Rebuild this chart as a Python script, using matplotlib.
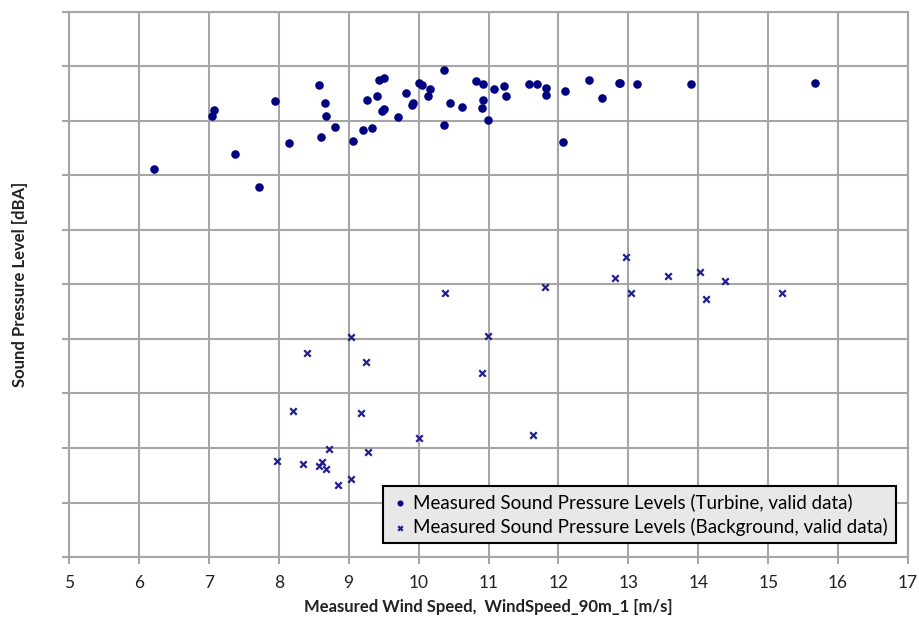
import matplotlib
matplotlib.use("Agg")
import matplotlib.pyplot as plt

plt.rcParams['font.family'] = ['Lato', 'DejaVu Sans']

# Turbine (valid data): wind speed [m/s], sound level (in grid units, no labelled scale)
turb_ws = [6.21, 7.05, 7.08, 7.38, 7.72, 7.95, 8.14, 8.57, 8.60, 8.66, 8.67, 8.81,
           9.06, 9.21, 9.34, 9.26, 9.41, 9.43, 9.50, 9.48, 9.51, 9.70, 9.82, 9.90,
           9.92, 10.01, 10.05, 10.17, 10.13, 10.37, 10.37, 10.45, 10.62, 10.82, 10.92,
           10.92, 10.90, 10.99, 11.08, 11.22, 11.25, 11.58, 11.70, 11.82, 11.82, 12.10,
           12.06, 12.44, 12.63, 12.86, 12.88, 13.13, 13.90, 15.67]
turb_spl = [7.12, 8.08, 8.19, 7.39, 6.79, 8.36, 7.60, 8.65, 7.70, 8.32, 8.09, 7.88,
            7.63, 7.84, 7.86, 8.39, 8.45, 8.74, 8.79, 8.18, 8.21, 8.07, 8.51, 8.29,
            8.32, 8.70, 8.65, 8.58, 8.45, 8.94, 7.93, 8.33, 8.25, 8.73, 8.67,
            8.38, 8.23, 8.01, 8.59, 8.63, 8.45, 8.67, 8.67, 8.61, 8.48, 8.55,
            7.61, 8.75, 8.42, 8.70, 8.70, 8.67, 8.68, 8.69]

# Background (valid data)
bg_ws = [10.38, 11.81, 9.04, 10.99, 8.40, 9.25, 10.90, 8.21, 9.18, 10.00, 11.63,
         8.72, 9.27, 7.98, 8.35, 8.57, 8.62, 8.68, 9.03, 8.85,
         12.81, 12.96, 13.04, 13.56, 14.02, 14.11, 14.38, 15.20]
bg_spl = [4.85, 4.95, 4.04, 4.05, 3.74, 3.57, 3.38, 2.67, 2.65, 2.18, 2.23,
          1.98, 1.93, 1.76, 1.70, 1.67, 1.75, 1.61, 1.43, 1.33,
          5.12, 5.51, 4.84, 5.16, 5.22, 4.73, 5.07, 4.85]

x_ticks = list(range(5, 18))

fig = plt.figure(figsize=(9.2, 6.21), dpi=100)
ax = fig.add_axes([0.075, 0.103, 0.912, 0.878])

ax.scatter(turb_ws, turb_spl, s=38, color='#000080', marker='o', linewidths=0,
           label='Measured Sound Pressure Levels (Turbine, valid data)', zorder=3)
ax.scatter(bg_ws, bg_spl, s=22, color='#1f1f8f', marker='x', linewidths=1.6,
           label='Measured Sound Pressure Levels (Background, valid data)', zorder=3)

ax.set_xlim(5, 17)
ax.set_ylim(0, 10)
ax.set_xticks(x_ticks)
ax.set_yticks(range(0, 11))
ax.set_yticklabels([])
ax.grid(True, color='#a6a6a6', linewidth=1.5)
ax.set_axisbelow(True)
for sp in ax.spines.values():
    sp.set_color('#a6a6a6')
    sp.set_linewidth(1.5)
ax.tick_params(axis='both', colors='#a6a6a6', length=5, width=1.5)
ax.tick_params(axis='x', labelcolor='#222222', labelsize=12.5, pad=8)

ax.set_xlabel('Measured Wind Speed,  WindSpeed_90m_1 [m/s]', fontsize=12,
              fontweight='bold', color='#222222', labelpad=6)
ax.set_ylabel('Sound Pressure Level [dBA]', fontsize=12, fontweight='bold',
              color='#222222')
ax.yaxis.set_label_coords(-0.049, 0.5)

leg = ax.legend(loc='lower right', bbox_to_anchor=(0.9965, 0.008), fontsize=13.5,
                frameon=True, fancybox=False, handletextpad=0.2, borderpad=0.4,
                labelspacing=0.35, handlelength=1.0, markerscale=0.7)
leg.get_frame().set_facecolor('#e8e8e8')
leg.get_frame().set_edgecolor('black')
leg.get_frame().set_linewidth(1.5)
leg.get_frame().set_alpha(1)

fig.savefig('out.png', dpi=100)
